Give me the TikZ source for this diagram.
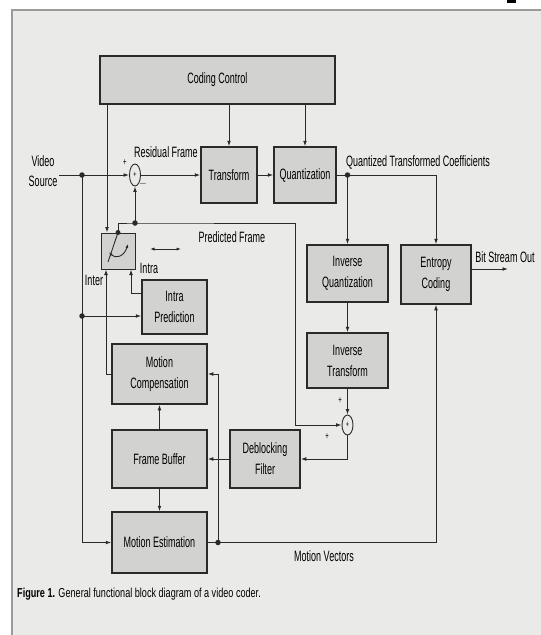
\documentclass[tikz,border=0pt]{standalone}
\usepackage{fontspec}
\setmainfont{Liberation Sans}[FakeStretch=0.6]
\newfontfamily\capfont{Liberation Sans}[FakeStretch=0.7]
\usetikzlibrary{arrows.meta,shapes.geometric}

\definecolor{paper}{HTML}{EAEAE8}
\definecolor{boxfill}{HTML}{D2D2D0}
\definecolor{ink}{HTML}{2A2A2A}
\definecolor{rulec}{HTML}{9A9A9A}

\begin{document}
\begin{tikzpicture}[
    x=1pt,
    y=-1pt,
    font=\fontsize{15}{21}\selectfont,
    every node/.style={inner sep=0pt},
    blockbox/.style={
        draw=ink,
        line width=1.5pt,
        fill=boxfill,
        align=center
    },
    link/.style={draw=ink, line width=0.9pt},
    arrow/.style={link, -{Latex[length=5.5pt,width=3.8pt]}},
    junction/.style={circle, fill=ink, minimum size=5.5pt},
    sumnode/.style={
        ellipse,
        draw=ink,
        line width=0.9pt,
        fill=paper,
        minimum width=11pt,
        minimum height=22pt,
        font=\fontsize{9}{9}\selectfont
    },
    sign/.style={font=\fontsize{10}{10}\selectfont}
]

% Page and frame
\useasboundingbox (0,0) rectangle (541,635);
\fill[white] (0,0) rectangle (541,635);
\fill[paper] (12,10) rectangle (541,635);
\draw[rulec, line width=1.2pt] (12,635) -- (12,10) -- (541,10);
\fill[black] (507,0) rectangle (516,2.5);

% Blocks
\node[blockbox, minimum width=235pt, minimum height=48pt] (cc) at (217.5,80) {Coding Control};
\node[blockbox, minimum width=56pt, minimum height=56pt] (tr) at (229,175) {Transform};
\node[blockbox, minimum width=62pt, minimum height=56pt] (qu) at (305,175) {Quantization};
\node[blockbox, minimum width=34pt, minimum height=36pt, line width=1pt] (sw) at (118,251) {};
\node[blockbox, minimum width=65pt, minimum height=54pt] (ip) at (174.5,307) {Intra\\Prediction};
\node[blockbox, minimum width=95pt, minimum height=60pt] (mc) at (159.5,374) {Motion\\Compensation};
\node[blockbox, minimum width=95pt, minimum height=58pt] (fb) at (159.5,459) {Frame Buffer};
\node[blockbox, minimum width=95pt, minimum height=61pt] (me) at (159.5,542.5) {Motion Estimation};
\node[blockbox, minimum width=70pt, minimum height=58pt] (db) at (265,459) {Deblocking\\Filter};
\node[blockbox, minimum width=81pt, minimum height=57pt] (iq) at (347.5,273.5) {Inverse\\Quantization};
\node[blockbox, minimum width=81pt, minimum height=55pt] (it) at (347.5,360.5) {Inverse\\Transform};
\node[blockbox, minimum width=70pt, minimum height=59pt] (ec) at (436,274.5) {Entropy\\Coding};

% Summing points
\node[sumnode] (sum1) at (135,175) {+};
\node[sumnode, minimum height=20pt] (sum2) at (347.5,425) {+};

% Junctions and free ends
\coordinate (src) at (59,175);
\coordinate (j1) at (82,175);
\coordinate (j2) at (347.5,175);
\coordinate (j3) at (135,223);
\coordinate (j4) at (82,316);
\coordinate (j5) at (218,542.5);
\coordinate (pfc) at (295,223);
\coordinate (bso) at (508,269);

% Forward path
\draw[arrow] (src) -- (sum1.west);
\draw[arrow] (sum1.east) -- (tr.west);
\draw[arrow] (tr.east) -- (qu.west);
\draw[link] (qu.east) -- (j2);
\draw[arrow] (j2) -| (ec.north);
\draw[arrow] (j2) -- (iq.north);
\draw[arrow] (ec.east |- bso) -- (bso);

% Coding control
\draw[arrow] (tr.north |- cc.south) -- (tr.north);
\draw[arrow] (qu.north |- cc.south) -- (qu.north);
\draw[arrow] ([xshift=-11pt]sw.north |- cc.south) -- ([xshift=-11pt]sw.north);

% Reconstruction loop
\draw[arrow] (iq.south) -- (it.north);
\draw[arrow] (it.south) -- (sum2.north);
\draw[arrow] (sum2.south) |- (db.east);
\draw[arrow] (db.west) -- (fb.east);
\draw[arrow] (fb.north) -- (mc.south);
\draw[arrow] (fb.south) -- (me.north);

% Source to estimation and intra prediction
\draw[arrow] (j1) |- (me.west);
\draw[arrow] (j4) -- (j4 -| ip.west);

% Motion vectors
\draw[link] (me.east) -- (j5);
\draw[arrow] (j5) -| (ec.south);
\draw[arrow] (j5) |- (mc.east);

% Prediction into the switch
\draw[arrow] (mc.west) -| ([xshift=-12pt]sw.south);
\draw[arrow] ([yshift=14pt]ip.west) -| ([xshift=13pt]sw.south);

% Predicted frame
\draw[link] (sw.north) |- (j3) -- (pfc);
\draw[arrow] (pfc) |- (sum2.west);
\draw[arrow] (j3) -- (sum1.south);

% Switch
\draw[link] (sw.north) -- (108,262);
\draw[link, {Latex[length=4pt,width=3pt]}-{Latex[length=4pt,width=3pt]}]
    (109,252) .. controls (115,259) and (124,257) .. (128,244);
\draw[link, {Latex[length=4.5pt,width=3.2pt]}-{Latex[length=4.5pt,width=3.2pt]}]
    (150,249) -- (181,249);

% Dots
\foreach \j in {j1,j2,j3,j4,j5}
    \node[junction] at (\j) {};
\node[junction, minimum size=5pt] at (sw.north) {};

% Labels
\node[align=center, font=\fontsize{15}{20}\selectfont] (vs) at (43,171) {Video\\Source};
\node (rf) at (166,152) {Residual Frame};
\node[anchor=west] (qtc) at (346,162) {Quantized Transformed Coefficients};
\node (pf) at (232,237) {Predicted Frame};
\node (inter) at (94,280) {Inter};
\node (intra) at (149,268) {Intra};
\node (bsl) at (505,257) {Bit Stream Out};
\node (mv) at (324,556) {Motion Vectors};
\node[sign] at (125,163) {+};
\node[sign] at (143,184) {$-$};
\node[sign] at (340,401) {+};
\node[sign] at (327,437) {+};

% Caption
\node[anchor=west, font=\capfont\fontsize{13}{13}\selectfont] (cap) at (17,594)
    {\textbf{Figure 1.} General functional block diagram of a video coder.};

\end{tikzpicture}
\end{document}
